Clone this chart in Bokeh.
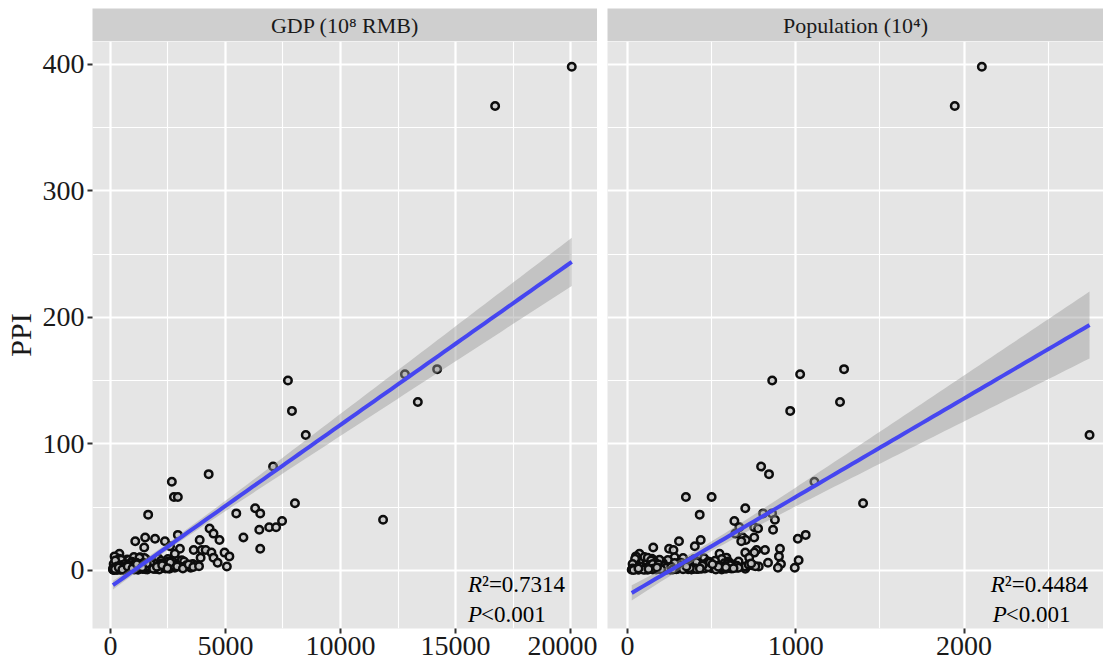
import numpy as np
from bokeh.plotting import figure
from bokeh.layouts import row, column
from bokeh.models import Range1d, FixedTicker, Label
from bokeh.embed import file_html
from bokeh.resources import INLINE

FONT = "Liberation Serif"

# ---------------- data ----------------
facet_titles = ["GDP (10\u2078 RMB)", "Population (10\u2074)"]
r2_text = ["0.7314", "0.4484"]
p_text = ["<0.001", "<0.001"]
y_title = "PPI"

x_major_gdp = [0, 5000, 10000, 15000, 20000]
x_minor_gdp = [2500, 7500, 12500, 17500]
x_major_pop = [0, 1000, 2000]
x_minor_pop = [500, 1500, 2500]
y_major = [0, 100, 200, 300, 400]
y_minor = [50, 150, 250, 350]

# larger / scattered cities
high_gdp = [20050, 16720, 14200, 12800, 7715, 13360, 7890, 8490, 7070, 4270,
            2670, 2760, 2930, 8020, 6290, 5470, 6510, 1640, 11850, 7460,
            6900, 7200, 4310, 6470, 4480, 2930, 5780, 1510, 1940, 3880,
            4740, 1080, 2370, 2590, 1470, 3020, 6510, 3620, 3970, 4140,
            390, 4390, 4960, 2800, 5170, 4480, 3100, 3920, 4660, 3580,
            3490, 2800, 5060, 3700, 3200, 2500]
high_pop = [2106, 1945, 1287, 1026, 860, 1263, 967, 2746, 794, 841,
            1111, 347, 500, 1400, 700, 806, 859, 429, 876, 635,
            665, 753, 776, 865, 641, 1059, 753, 685, 1012, 435,
            703, 306, 676, 400, 153, 247, 906, 817, 767, 273,
            71, 700, 754, 547, 900, 588, 1017, 723, 835, 912,
            994, 894, 780, 745, 660, 560]
high_ppi = [398, 367, 159, 155, 150, 133, 126, 107, 82, 76,
            70, 58, 58, 53, 49, 45, 45, 44, 40, 39,
            34, 34, 33, 32, 29, 28, 26, 26, 25, 24,
            24, 23, 23, 19, 18, 17, 17, 16, 16, 16,
            13, 14, 14, 13, 11, 10, 8, 10, 6, 5,
            2, 2, 3, 4, 7, 9]

# dense cluster of small cities (part 1)
low_gdp = [130, 160, 190, 220, 250, 270, 300, 320, 350, 370,
           400, 420, 450, 470, 500, 530, 560, 590, 610, 640,
           670, 700, 730, 760, 790, 820, 850, 880, 910, 940,
           970, 1000, 1040, 1070, 1100, 1140, 1170, 1210, 1250, 1290,
           1330, 1370, 1410, 1460, 1500, 1550, 1600, 1660, 1720, 1780,
           1850, 1920, 2000, 2080, 2170, 2260, 2350, 2450, 2560, 2700,
           2850, 3050, 3300, 180, 240, 310, 380, 440, 520, 580,
           650, 720, 800, 870, 950, 1020, 1120, 1230, 1350, 1480,
           1620, 1800, 1980, 2200, 2420, 140, 290, 460, 620, 780,
           930, 1090, 1260, 1440, 1700, 2050, 210, 560, 880, 1180]
low_pop = [25, 40, 60, 35, 80, 55, 110, 70, 95, 130,
           60, 150, 120, 85, 170, 140, 200, 105, 230, 160,
           190, 260, 125, 215, 290, 175, 240, 320, 205, 270,
           350, 145, 300, 225, 380, 265, 410, 195, 330, 280,
           440, 250, 360, 310, 470, 395, 230, 520, 340, 425,
           560, 380, 610, 455, 500, 650, 420, 590, 700, 480,
           630, 545, 740, 50, 90, 165, 45, 210, 115, 255,
           185, 75, 240, 135, 315, 100, 285, 370, 180, 330,
           455, 210, 390, 520, 610, 30, 65, 190, 100, 345,
           160, 400, 120, 270, 575, 310, 140, 235, 365, 440]
low_ppi = [0.5, 1.2, 0.8, 2.0, 1.5, 3.1, 0.9, 2.4, 4.2, 1.1,
           3.5, 0.7, 5.3, 2.2, 1.8, 6.1, 2.9, 0.6, 4.5, 7.8,
           1.4, 3.3, 8.5, 2.6, 0.9, 5.0, 3.8, 1.6, 6.7, 2.1,
           4.1, 9.2, 1.3, 5.6, 2.7, 3.4, 7.1, 0.8, 4.8, 10.3,
           2.5, 6.3, 1.9, 3.7, 5.2, 8.8, 0.7, 4.0, 2.3, 6.6,
           3.0, 7.4, 1.6, 9.6, 4.4, 2.0, 5.9, 3.2, 1.2, 7.0,
           4.6, 2.8, 3.9, 11.0, 6.5, 2.3, 9.1, 1.7, 7.3, 3.6,
           5.4, 1.0, 8.1, 2.9, 4.3, 10.5, 1.5, 6.2, 3.1, 9.7,
           2.4, 5.8, 1.1, 7.6, 3.3, 4.9, 0.4, 8.4, 2.0, 1.9,
           6.8, 3.0, 9.9, 1.4, 5.5, 2.6, 7.7, 0.6, 4.7, 1.3]

# dense cluster of small cities (part 2)
low2_gdp = [110, 140, 170, 200, 230, 260, 290, 310, 340, 360,
            390, 410, 440, 480, 510, 540, 570, 600, 630, 660,
            690, 710, 740, 770, 810, 840, 860, 890, 920, 960,
            990, 1030, 1060, 1090, 1130, 1160, 1200, 1240, 1280, 1310,
            1350, 1390, 1430, 1480, 1520, 1570, 1630, 1690, 1750, 1820,
            1890, 1960, 2040, 2120, 2210, 2300, 2400, 2520, 2620, 2750,
            150, 280, 430, 580, 720, 880, 1010, 1180, 1320, 1530,
            1740, 1940, 2140, 2380, 2600, 2900, 3150, 3400, 3600, 3850,
            120, 330, 490, 680, 830, 1050, 1280, 1400, 1580, 1860,
            2020, 2250, 2480, 200, 360, 520, 750, 960, 1150, 1380]
low2_pop = [45, 30, 70, 90, 55, 120, 75, 140, 100, 160,
            115, 180, 95, 210, 135, 250, 170, 290, 150, 230,
            310, 200, 340, 185, 260, 380, 220, 300, 410, 245,
            360, 275, 430, 190, 320, 465, 255, 390, 300, 500,
            350, 420, 280, 540, 380, 460, 330, 580, 410, 520,
            520, 450, 480, 560, 490, 530, 460, 600, 540, 620,
            35, 150, 230, 330, 400, 480, 560, 410, 590, 530,
            600, 520, 650, 560, 490, 700, 620, 720, 580, 760,
            65, 200, 260, 370, 445, 525, 615, 660, 735, 585,
            540, 610, 630, 125, 175, 270, 350, 430, 505, 585]
low2_ppi = [0.6, 1.4, 0.9, 2.1, 1.2, 0.5, 3.0, 1.8, 0.8, 2.6,
            1.0, 3.6, 0.4, 2.3, 4.1, 1.5, 0.7, 2.9, 5.0, 1.1,
            3.2, 0.9, 1.7, 4.6, 2.0, 0.6, 3.4, 5.5, 1.3, 2.5,
            0.8, 4.0, 2.2, 1.4, 6.0, 3.1, 0.5, 2.7, 4.9, 1.6,
            3.8, 1.0, 5.7, 2.4, 0.9, 4.4, 1.9, 3.0, 6.4, 2.1,
            1.2, 4.8, 2.8, 0.7, 5.3, 3.5, 1.5, 6.9, 2.0, 3.9,
            0.3, 1.3, 2.0, 0.9, 1.6, 2.4, 3.3, 1.1, 4.2, 2.8,
            5.1, 1.8, 3.6, 2.2, 6.2, 3.0, 1.4, 4.5, 2.6, 3.3,
            1.5, 0.8, 2.6, 1.9, 3.7, 0.6, 4.3, 2.1, 5.4, 1.2,
            2.9, 4.0, 1.7, 1.0, 2.3, 0.7, 3.1, 1.5, 4.8, 2.5]

gdp = high_gdp + low_gdp + low2_gdp
pop = high_pop + low_pop + low2_pop
ppi = high_ppi + low_ppi + low2_ppi

# ---------------- helpers ----------------
def fit_band(x, y, n=80):
    x = np.asarray(x, float)
    y = np.asarray(y, float)
    b, a = np.polyfit(x, y, 1)
    resid = y - (a + b * x)
    dof = len(x) - 2
    s = np.sqrt((resid ** 2).sum() / dof)
    xs = np.linspace(x.min(), x.max(), n)
    xbar = x.mean()
    sxx = ((x - xbar) ** 2).sum()
    se = s * np.sqrt(1.0 / len(x) + (xs - xbar) ** 2 / sxx)
    t = 1.969
    yhat = a + b * xs
    return xs, yhat, yhat - t * se, yhat + t * se


PANEL_BG = "#E5E5E5"
STRIP_BG = "#CFCFCF"
TXT = "#1A1A1A"
STRIP_TOP = 8
STRIP_H = 41          # includes top white margin
PANEL_TOP = 0
FRAME_H = 587
BORDER_BOTTOM = 40
PANEL_H = PANEL_TOP + FRAME_H + BORDER_BOTTOM

y_range = Range1d(-46, 418)


def make_strip(title, width, bl, br):
    s = figure(width=width, height=STRIP_H, x_range=Range1d(0, 1), y_range=Range1d(0, 1),
               output_backend="svg", toolbar_location=None,
               x_axis_type=None, y_axis_type=None,
               min_border_left=bl, min_border_right=br, min_border_top=STRIP_TOP,
               min_border_bottom=0)
    s.background_fill_color = STRIP_BG
    s.border_fill_color = "white"
    s.outline_line_color = None
    s.add_layout(Label(x=0.5, y=0.5, text=title, text_align="center", text_baseline="middle",
                       text_font=FONT, text_font_size="22px", text_color=TXT))
    return s


def make_panel(xv, yv, xr, xmaj, xmin, width, bl, br, show_y, r2, pv, lab_x, lab_x2):
    p = figure(width=width, height=PANEL_H, x_range=xr, y_range=y_range,
               output_backend="svg", toolbar_location=None,
               min_border_left=bl, min_border_right=br, min_border_top=PANEL_TOP,
               min_border_bottom=BORDER_BOTTOM)
    p.background_fill_color = PANEL_BG
    p.border_fill_color = "white"
    p.outline_line_color = None

    p.xaxis.ticker = FixedTicker(ticks=xmaj, minor_ticks=xmin)
    p.yaxis.ticker = FixedTicker(ticks=y_major, minor_ticks=y_minor)
    p.xgrid.ticker = FixedTicker(ticks=xmaj, minor_ticks=xmin)
    p.ygrid.ticker = FixedTicker(ticks=y_major, minor_ticks=y_minor)
    for g in (p.xgrid, p.ygrid):
        g.grid_line_color = "white"
        g.grid_line_width = 2.2
        g.minor_grid_line_color = "white"
        g.minor_grid_line_width = 1.1

    for ax in (p.xaxis, p.yaxis):
        ax.axis_line_color = None
        ax.major_tick_line_color = "#333333"
        ax.major_tick_line_width = 2
        ax.major_tick_out = 5
        ax.major_tick_in = 0
        ax.minor_tick_line_color = None
        ax.major_label_text_font = FONT
        ax.major_label_text_font_size = "28px"
        ax.major_label_text_color = TXT
    p.xaxis.major_label_standoff = 3
    p.yaxis.major_label_standoff = 3

    if show_y:
        p.yaxis.axis_label = y_title
        p.yaxis.axis_label_text_font = FONT
        p.yaxis.axis_label_text_font_size = "30px"
        p.yaxis.axis_label_text_font_style = "normal"
        p.yaxis.axis_label_text_color = TXT
        p.yaxis.axis_label_standoff = 3
    else:
        p.yaxis.visible = False

    p.scatter(xv, yv, marker="circle", size=7.5, line_color="#0d0d0d", line_width=2.5,
              fill_color="#cccccc", fill_alpha=0.9)

    xs, yh, lo, hi = fit_band(xv, yv)
    p.varea(x=xs, y1=lo, y2=hi, fill_color="#999999", fill_alpha=0.45)
    p.line(xs, yh, line_color="#4646F0", line_width=4)

    common = dict(text_font=FONT, text_font_size="23px", text_color="black",
                  text_baseline="alphabetic", text_align="left")
    p.add_layout(Label(x=lab_x, y=-11, text="R", text_font_style="italic", **common))
    p.add_layout(Label(x=lab_x, y=-11, x_offset=14, text="\u00b2=" + r2, **common))
    p.add_layout(Label(x=lab_x2, y=-35, text="P", text_font_style="italic", **common))
    p.add_layout(Label(x=lab_x2, y=-35, x_offset=13, text=pv, **common))
    return p


xr_gdp = Range1d(-779, 21169)
xr_pop = Range1d(-119, 2829)

W_LEFT, W_RIGHT = 597, 506
strip_l = make_strip(facet_titles[0], W_LEFT, 90, 0)
strip_r = make_strip(facet_titles[1], W_RIGHT, 10, 0)
panel_l = make_panel(gdp, ppi, xr_gdp, x_major_gdp, x_minor_gdp, W_LEFT, 90, 0, True,
                     r2_text[0], p_text[0], 15540, 15540)
panel_r = make_panel(pop, ppi, xr_pop, x_major_pop, x_minor_pop, W_RIGHT, 10, 0, False,
                     r2_text[1], p_text[1], 2159, 2171)

layout = row(column(strip_l, panel_l), column(strip_r, panel_r))

open("out.html", "w").write(file_html(layout, INLINE))
